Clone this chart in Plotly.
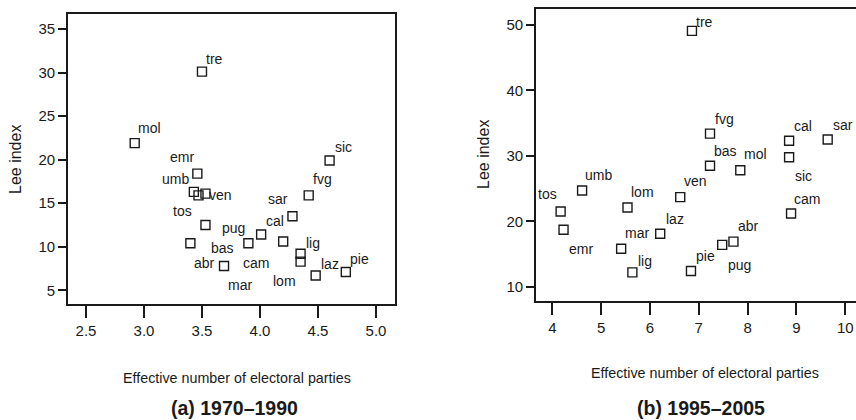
import plotly.graph_objects as go

# ---- data: (a) 1970-1990 ----
regions_a = ["tre", "mol", "emr", "umb", "tos", "ven", "bas", "abr", "mar", "pug",
             "cal", "cam", "sar", "fvg", "sic", "lig", "lom", "laz", "pie"]
enep_a = [3.50, 2.92, 3.46, 3.43, 3.47, 3.53, 3.53, 3.40, 3.69, 3.90,
          4.01, 4.20, 4.28, 4.42, 4.60, 4.35, 4.35, 4.48, 4.74]
lee_a = [30.1, 21.9, 18.4, 16.3, 15.9, 16.1, 12.5, 10.4, 7.8, 10.4,
         11.4, 10.6, 13.5, 15.9, 19.9, 9.2, 8.3, 6.7, 7.1]

# ---- data: (b) 1995-2005 ----
regions_b = ["tre", "fvg", "bas", "mol", "cal", "sic", "sar", "cam", "umb", "tos",
             "emr", "lom", "mar", "lig", "laz", "ven", "pie", "pug", "abr"]
enep_b = [6.86, 7.23, 7.23, 7.85, 8.85, 8.85, 9.64, 8.89, 4.61, 4.17,
          4.23, 5.54, 5.41, 5.64, 6.21, 6.62, 6.84, 7.48, 7.71]
lee_b = [49.1, 33.4, 28.5, 27.8, 32.3, 29.8, 32.5, 21.2, 24.7, 21.5,
         18.7, 22.1, 15.8, 12.2, 18.1, 23.7, 12.4, 16.4, 16.9]

xticks_a = [2.5, 3.0, 3.5, 4.0, 4.5, 5.0]
yticks_a = [5, 10, 15, 20, 25, 30, 35]
xticks_b = [4, 5, 6, 7, 8, 9, 10]
yticks_b = [10, 20, 30, 40, 50]

# label offsets in pixels (style only): (dx right, dy down)
off_a = {"tre": (13, -13), "mol": (15, -15), "emr": (-15, -17), "umb": (-18, -13),
         "tos": (-16, 16), "ven": (15, 1), "bas": (17, 23), "abr": (14, 20),
         "mar": (16, 19), "pug": (-15, -15), "cal": (14, -14), "cam": (-27, 21),
         "sar": (-14, -17), "fvg": (14, -16), "sic": (14, -14), "lig": (12, -11),
         "lom": (-16, 19), "laz": (14, -12), "pie": (14, -13)}
off_b = {"tre": (13, -9), "fvg": (14, -15), "bas": (15, -15), "mol": (15, -16),
         "cal": (14, -15), "sic": (14, 19), "sar": (15, -15), "cam": (16, -14),
         "umb": (16, -16), "tos": (-13, -17), "emr": (17, 19), "lom": (15, -16),
         "mar": (16, -16), "lig": (13, -11), "laz": (15, -15), "ven": (15, -16),
         "pie": (15, -15), "pug": (17, 20), "abr": (15, -16)}

FONT = "Liberation Sans, Arial, sans-serif"
INK = "#1a1a1a"

fig = go.Figure()
marker = dict(symbol="square-open", size=9, color=INK, line=dict(width=1.4, color=INK))
fig.add_trace(go.Scatter(x=enep_a, y=lee_a, mode="markers", marker=marker,
                         xaxis="x", yaxis="y", showlegend=False, hoverinfo="skip"))
fig.add_trace(go.Scatter(x=enep_b, y=lee_b, mode="markers", marker=marker,
                         xaxis="x2", yaxis="y2", showlegend=False, hoverinfo="skip"))

annotations = []
for name, xv, yv in zip(regions_a, enep_a, lee_a):
    dx, dy = off_a[name]
    annotations.append(dict(x=xv, y=yv, xref="x", yref="y", text=name, showarrow=False,
                            xshift=dx, yshift=-dy, font=dict(family=FONT, size=14, color=INK)))
for name, xv, yv in zip(regions_b, enep_b, lee_b):
    dx, dy = off_b[name]
    annotations.append(dict(x=xv, y=yv, xref="x2", yref="y2", text=name, showarrow=False,
                            xshift=dx, yshift=-dy, font=dict(family=FONT, size=14, color=INK)))

W, H = 856, 420
def px(xp, yp):
    return xp / W, 1 - yp / H

for txt, (xp, yp), rot, sz in [("Lee index", (15, 160), -90, 16), ("Lee index", (483, 155), -90, 16),
                               ("Effective number of electoral parties", (237, 378), 0, 14.3),
                               ("Effective number of electoral parties", (705, 373), 0, 14.3)]:
    xx, yy = px(xp, yp)
    annotations.append(dict(x=xx, y=yy, xref="paper", yref="paper", text=txt, showarrow=False,
                            textangle=rot, xanchor="center", yanchor="middle",
                            font=dict(family=FONT, size=sz, color=INK)))
for txt, (xp, yp) in [("(a) 1970–1990", (234, 408)), ("(b) 1995–2005", (701, 408))]:
    xx, yy = px(xp, yp)
    annotations.append(dict(x=xx, y=yy, xref="paper", yref="paper", text="<b>%s</b>" % txt,
                            showarrow=False, xanchor="center", yanchor="middle",
                            font=dict(family=FONT, size=19.5, color=INK)))

axis_common = dict(showgrid=False, zeroline=False, showline=True, linecolor=INK, linewidth=1.6,
                   ticks="outside", tickcolor=INK, tickwidth=1.6,
                   tickfont=dict(family=FONT, size=15, color=INK))

fig.update_layout(
    width=W, height=H, margin=dict(l=0, r=0, t=0, b=0),
    paper_bgcolor="white", plot_bgcolor="white",
    annotations=annotations,
    xaxis=dict(domain=[68 / W, 395 / W], range=[2.345, 5.164], tickvals=xticks_a,
               tickformat=".1f", ticklen=12, mirror=True, anchor="y", **axis_common),
    yaxis=dict(domain=[1 - 304 / H, 1 - 14 / H], range=[3.43, 36.72], tickvals=yticks_a,
               ticklen=8, mirror=True, anchor="x", **axis_common),
    xaxis2=dict(domain=[536 / W, 1.0], range=[3.666, 10.22], tickvals=xticks_b,
                ticklen=12, mirror=True, anchor="y2", **axis_common),
    yaxis2=dict(domain=[1 - 301 / H, 1 - 9.3 / H], range=[7.82, 52.4], tickvals=yticks_b,
                ticklen=8, mirror=False, anchor="x2", **axis_common),
)

fig.write_html("out.html", config={"displayModeBar": False},
               post_script="document.body.style.margin='0';document.body.style.overflow='hidden';")
